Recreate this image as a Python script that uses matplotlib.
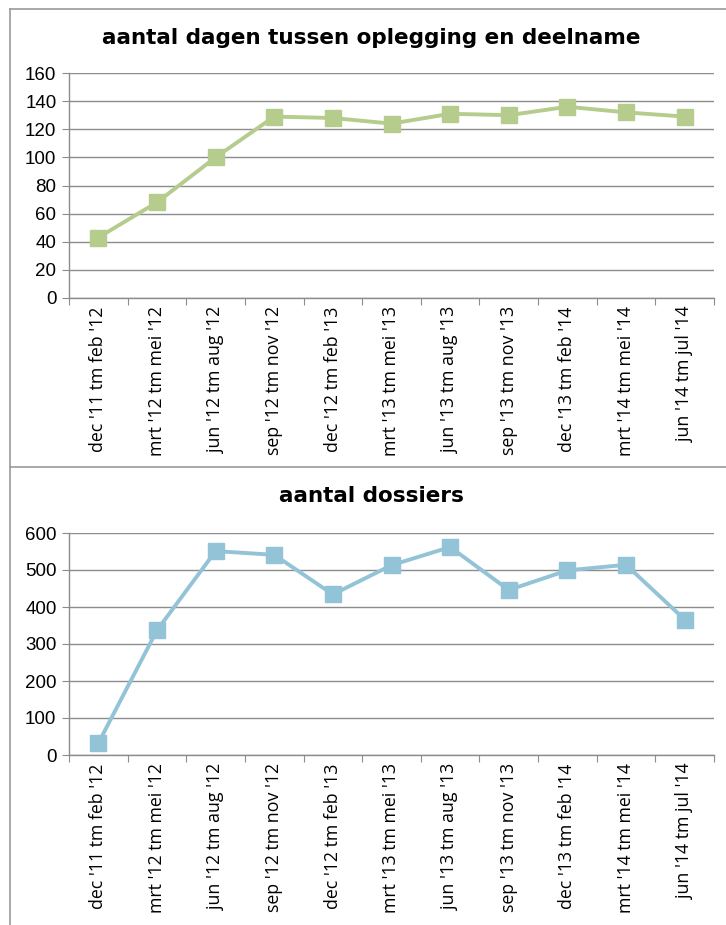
import matplotlib
matplotlib.use("Agg")
import matplotlib.pyplot as plt
from matplotlib.lines import Line2D

categories = ["dec '11 tm feb '12", "mrt '12 tm mei '12", "jun '12 tm aug '12",
              "sep '12 tm nov '12", "dec '12 tm feb '13", "mrt '13 tm mei '13",
              "jun '13 tm aug '13", "sep '13 tm nov '13", "dec '13 tm feb '14",
              "mrt '14 tm mei '14", "jun '14 tm jul '14"]
dagen = [43, 68, 100, 129, 128, 124, 131, 130, 136, 132, 129]
dossiers = [32, 337, 551, 541, 434, 513, 562, 446, 499, 514, 366]
title_top = "aantal dagen tussen oplegging en deelname"
title_bottom = "aantal dossiers"
yticks_top = [0, 20, 40, 60, 80, 100, 120, 140, 160]
yticks_bottom = [0, 100, 200, 300, 400, 500, 600]

W, H = 726, 925
fig = plt.figure(figsize=(W / 100, H / 100), dpi=100)

grid_c = "#8c8c8c"
ytick_font = ["Liberation Sans", "DejaVu Sans"]

def panel(rect, values, yticks, title, color, title_y):
    ax = fig.add_axes(rect)
    x = list(range(len(categories)))
    ax.plot(x, values, color=color, lw=2.8, marker="s", ms=11,
            markerfacecolor=color, markeredgecolor=color, zorder=3)
    ax.set_xlim(-0.5, len(categories) - 0.5)
    ax.set_ylim(yticks[0], yticks[-1])
    ax.set_yticks(yticks)
    ax.set_yticklabels([str(v) for v in yticks], family=ytick_font, fontsize=13.5)
    ax.yaxis.grid(True, color=grid_c, lw=1)
    ax.set_axisbelow(True)
    ax.set_xticks([i - 0.5 for i in range(len(categories) + 1)])
    ax.set_xticklabels([])
    ax.set_xticks(x, minor=True)
    ax.set_xticklabels(categories, minor=True, rotation=90, family="Open Sans",
                       fontsize=12.8)
    ax.tick_params(axis="x", which="minor", length=0, pad=6)
    ax.tick_params(axis="x", which="major", length=5, color=grid_c, direction="out")
    ax.tick_params(axis="y", length=5, color=grid_c, direction="out", pad=4)
    for s in ["top", "right"]:
        ax.spines[s].set_visible(False)
    for s in ["left", "bottom"]:
        ax.spines[s].set_color(grid_c)
        ax.spines[s].set_linewidth(1)
    fig.text(0.512, title_y, title, ha="center", va="center", fontsize=15.5,
             fontweight="bold", family="DejaVu Sans")
    return ax

panel([69 / W, 1 - 298 / H, 645 / W, 225 / H], dagen, yticks_top, title_top,
      "#b6cc8d", 1 - 38 / H)
panel([69 / W, 1 - 755 / H, 645 / W, 222 / H], dossiers, yticks_bottom, title_bottom,
      "#93c3d7", 1 - 496 / H)

border = "#9a9a9a"
for (x0, y0, x1, y1) in [(9.5, 8.5, 726, 8.5), (9.5, 8.5, 9.5, 925),
                         (9.5, 467.5, 726, 467.5)]:
    fig.add_artist(Line2D([x0 / W, x1 / W], [1 - y0 / H, 1 - y1 / H],
                          color=border, lw=1.2, transform=fig.transFigure))

fig.savefig("out.png", dpi=100)
